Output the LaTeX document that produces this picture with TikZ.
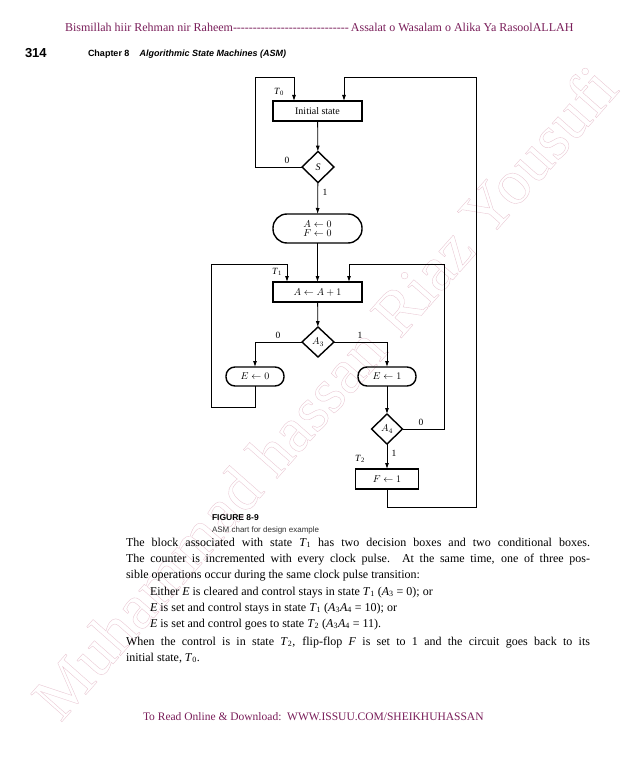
\documentclass[tikz,border=0pt]{standalone}
\usepackage{fontspec}
\setmainfont{Liberation Serif}
\newfontfamily\sansfam{Liberation Sans}
\usetikzlibrary{shapes.geometric,arrows.meta}
\definecolor{hdrcol}{RGB}{122,30,90}
\definecolor{wmcol}{RGB}{232,196,208}
\newcommand\sub[2]{\textit{#1}\textsubscript{#2}}
\begin{document}
\begin{tikzpicture}[x=1pt,y=-1pt,
  every node/.style={inner sep=0pt, outer sep=0pt},
  statebox/.style={draw, line width=1.4pt, minimum width=89pt, minimum height=20pt, font=\fontsize{10}{11}\selectfont},
  decbox/.style={diamond, draw, line width=1.4pt, minimum width=32pt, minimum height=31pt, font=\fontsize{10}{11}\selectfont},
  condbox/.style={draw, line width=1.4pt, rounded corners=9pt, minimum width=58pt, minimum height=19pt, font=\fontsize{10}{11}\selectfont},
  flow/.style={line width=0.8pt},
  arr/.style={flow, -{Latex[length=6pt,width=4pt]}},
  lbl/.style={font=\fontsize{9.5}{10}\selectfont},
  bodyline/.style={anchor=base west, font=\fontsize{12}{14}\selectfont},
]
\fill[white] (0,0) rectangle (638,757);
\useasboundingbox (0,0) rectangle (638,757);

% watermark
\node[rotate=48.5, text=wmcol, font=\fontsize{64}{64}\selectfont] (wm) at (324,392)
  {\special{pdf:literal direct 1 Tr 0.35 w}Muhammad hassan Riaz Yousufi\special{pdf:literal direct 0 Tr}};

% header
\node[anchor=base west, text=hdrcol, font=\fontsize{12}{14}\selectfont] (hdr) at (65,32)
  {Bismillah hiir Rehman nir Raheem\hbox to 118pt{\leaders\hbox{-}\hfil}Assalat o Wasalam o Alika Ya RasoolALLAH};
\node[anchor=base west, font=\sansfam\bfseries\fontsize{13}{14}\selectfont] (pg) at (25,58) {314};
\node[anchor=base west, font=\sansfam\bfseries\fontsize{9}{10}\selectfont] (ch) at (88,57)
  {Chapter 8\hspace{10pt}\textit{Algorithmic State Machines (ASM)}};

% chart
\node[statebox] (init) at (317.5,111) {Initial state};
\node[decbox] (S) at (318,167) {\textit{S}};
\node[condbox, minimum width=89pt, minimum height=29pt, rounded corners=14pt, align=center,
      font=\fontsize{10}{9.5}\selectfont] (AF) at (317.5,228.5) {$A\leftarrow0$\\$F\leftarrow0$};
\node[statebox] (inc) at (317.5,292) {$A\leftarrow A+1$};
\node[decbox, minimum height=30pt] (A3) at (318,342) {$A_3$};
\node[condbox] (E0) at (255,376.5) {$E\leftarrow0$};
\node[condbox] (E1) at (387,376.5) {$E\leftarrow1$};
\node[decbox, minimum width=31pt, minimum height=30pt] (A4) at (387,429) {$A_4$};
\node[statebox, minimum width=63pt] (F1) at (387,479) {$F\leftarrow1$};

\coordinate (L0) at (255,77);
\coordinate (L0b) at (294,77);
\coordinate (R0) at (476,507);
\coordinate (R0b) at (344,77);
\coordinate (L1) at (211,407);
\coordinate (L1b) at (287,264);
\coordinate (R1) at (444,264);
\coordinate (R1b) at (349,264);

\draw[arr] (init) -- (S);
\draw[arr] (S) -- (AF);
\draw[arr] (AF) -- (inc);
\draw[arr] (inc) -- (A3);
\draw[arr] (A3.west) -| (E0.north);
\draw[arr] (A3.east) -| (E1.north);
\draw[arr] (E1) -- (A4);
\draw[arr] (A4) -- (F1);
\draw[arr] (S.west) -| (L0) -| (init.north -| L0b);
\draw[arr] (F1.south) |- (R0) |- (R0b) -- (init.north -| R0b);
\draw[arr] (E0.south) |- (L1) |- (L1b) -- (inc.north -| L1b);
\draw[arr] (A4.east) -| (R1) -- (R1b) -- (inc.north -| R1b);

\node[lbl] (lT0) at (279,92) {\sub{T}{0}};
\node[lbl] (l0a) at (287,160) {0};
\node[lbl] (l1a) at (325,192) {1};
\node[lbl] (lT1) at (277,272) {\sub{T}{1}};
\node[lbl] (l0b) at (278,335) {0};
\node[lbl] (l1b) at (360,335) {1};
\node[lbl] (l0c) at (421,422) {0};
\node[lbl] (l1c) at (394,453) {1};
\node[lbl] (lT2) at (360,459) {\sub{T}{2}};

% caption
\node[anchor=base west, font=\sansfam\bfseries\fontsize{8.5}{10}\selectfont] (figno) at (212,520) {FIGURE 8-9};
\node[anchor=base west, font=\sansfam\fontsize{8}{10}\selectfont, text=black!80] (figcap) at (212,532) {ASM chart for design example};

% body
\def\bw{464pt}
\node[bodyline] (b1) at (126,546) {\hbox to \bw{The block associated with state \sub{T}{1} has two decision boxes and two conditional boxes.}};
\node[bodyline] (b2) at (126,562) {\hbox to \bw{The counter is incremented with every clock pulse. At the same time, one of three pos-}};
\node[bodyline] (b3) at (126,578) {sible operations occur during the same clock pulse transition:};
\node[bodyline] (b4) at (150,595) {Either \textit{E} is cleared and control stays in state \sub{T}{1} (\sub{A}{3} = 0); or};
\node[bodyline] (b5) at (150,611) {\textit{E} is set and control stays in state \sub{T}{1} (\sub{A}{3}\sub{A}{4} = 10); or};
\node[bodyline] (b6) at (150,627) {\textit{E} is set and control goes to state \sub{T}{2} (\sub{A}{3}\sub{A}{4} = 11).};
\node[bodyline] (b7) at (126,645) {\hbox to \bw{When the control is in state \sub{T}{2}, flip-flop \textit{F} is set to 1 and the circuit goes back to its}};
\node[bodyline] (b8) at (126,661) {initial state, \sub{T}{0}.};

% footer
\node[anchor=base west, text=hdrcol, font=\fontsize{11.5}{13}\selectfont] (ftr) at (143,720)
  {To Read Online \& Download:\ \ WWW.ISSUU.COM/SHEIKHUHASSAN};
\end{tikzpicture}
\end{document}
